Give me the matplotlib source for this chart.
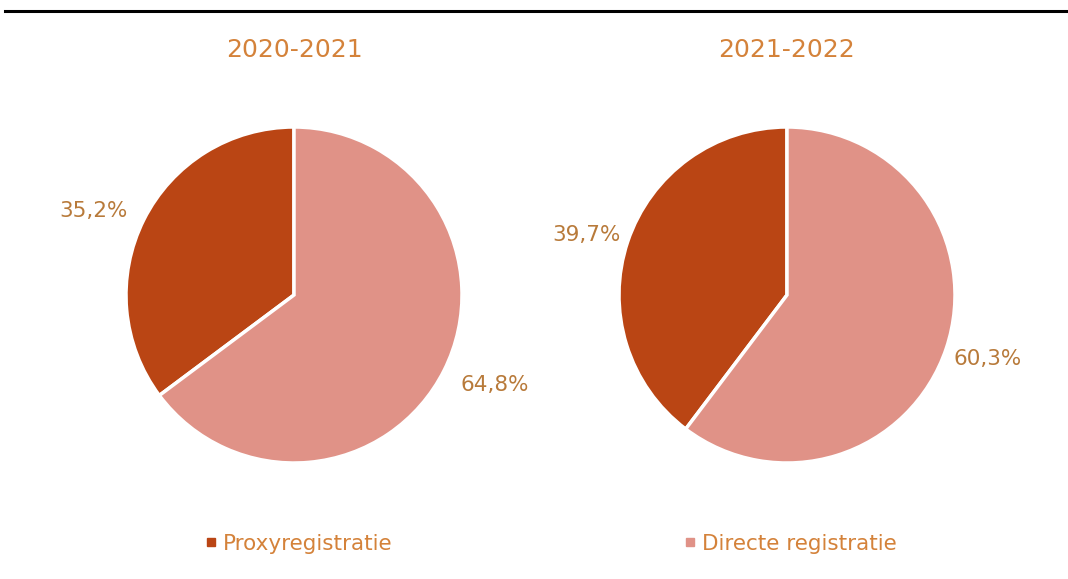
import numpy as np
import matplotlib.pyplot as plt
from matplotlib.lines import Line2D

# Proxyregistratie vs directe registratie
years = ["2020-2021", "2021-2022"]
categories = ["Proxyregistratie", "Directe registratie"]
proxy = [35.2, 39.7]
direct = [64.8, 60.3]

colors = ["#BA4514", "#E09287"]
title_color = "#D4823A"
label_color = "#B87A3A"

W, H = 1068, 579
fig = plt.figure(figsize=(W / 100, H / 100), dpi=100)

R = 168  # pie radius in px
lim = 1.4
centers = [(294, 295), (787, 295)]

for i, (cx, cy) in enumerate(centers):
    size = 2 * lim * R
    ax = fig.add_axes([(cx - size / 2) / W, (H - cy - size / 2) / H, size / W, size / H])
    vals = [proxy[i], direct[i]]
    wedges, texts, autotexts = ax.pie(
        vals, colors=colors, startangle=90, counterclock=True,
        autopct=lambda p: f"{p:.1f}%".replace(".", ","), pctdistance=1.2,
        wedgeprops=dict(edgecolor="white", linewidth=2.5))
    # labels placed just outside the slice, aligned away from the pie
    for w, t in zip(wedges, autotexts):
        th = np.deg2rad((w.theta1 + w.theta2) / 2)
        side = np.sign(np.cos(th))
        k = 1.2 if side > 0 else 1.12
        t.set_position((side * 0.99, k * np.sin(th)))
        t.set_ha("left" if side > 0 else "right")
        t.set_color(label_color)
        t.set_fontsize(15.5)
    ax.set_xlim(-lim, lim)
    ax.set_ylim(-lim, lim)
    ax.set_aspect("equal")
    fig.text(cx / W, 1 - 50 / H, years[i], ha="center", va="center",
             fontsize=18, color=title_color)

# top rule
fig.add_artist(Line2D([5 / W, 1], [1 - 11 / H, 1 - 11 / H], color="black", linewidth=2.2))

handles = [Line2D([], [], marker="s", linestyle="none", markersize=6,
                  markerfacecolor=c, markeredgecolor=c) for c in colors]
leg = fig.legend(handles, categories, loc="center", bbox_to_anchor=(551 / W, 1 - 544 / H),
                 ncol=2, frameon=False, fontsize=15.5, handlelength=0.5, handletextpad=0.3,
                 columnspacing=13.6)
for t in leg.get_texts():
    t.set_color(title_color)

fig.savefig("out.png", dpi=100)
